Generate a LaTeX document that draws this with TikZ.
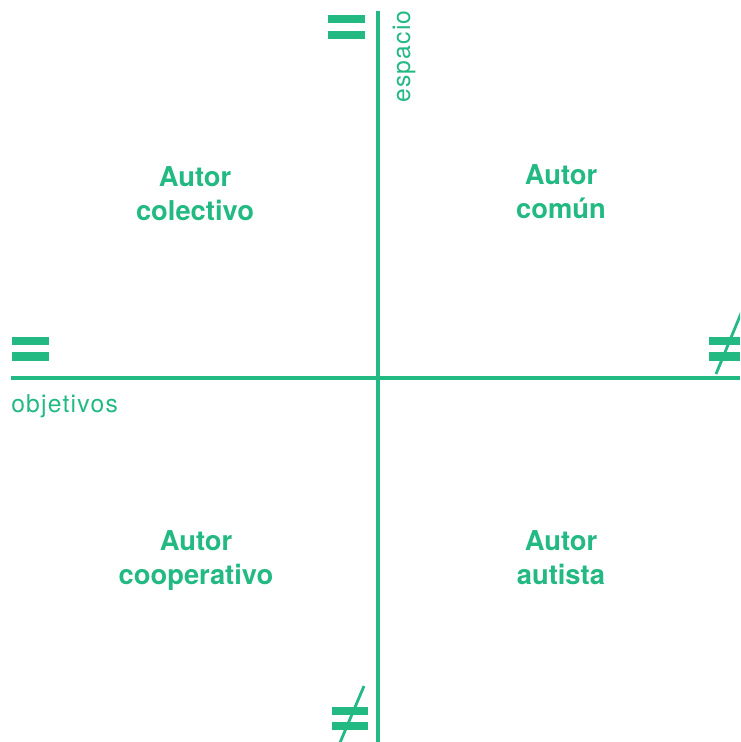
\documentclass[tikz,border=0pt]{standalone}
\usepackage{fontspec}
\setmainfont{TeX Gyre Heros}
\definecolor{mint}{RGB}{34,185,130}
\begin{document}
\begin{tikzpicture}[x=0.75pt,y=-0.75pt,
  axis/.style={draw=mint,line width=2.6pt},
  bar/.style={fill=mint,draw=none},
  slash/.style={draw=mint,line width=2.1pt},
  quadlabel/.style={text=mint,inner sep=0pt,align=center,anchor=base,
    font=\bfseries\fontsize{20.5}{25}\selectfont},
  axislabel/.style={text=mint,inner sep=0pt,
    font=\fontsize{18.5}{22}\selectfont\addfontfeatures{LetterSpace=5}}]
  \useasboundingbox (0,0) rectangle (740,742);
  \begin{scope}
  \clip (0,0) rectangle (740,742);
  % axes
  \coordinate (ytop) at (378,11);
  \coordinate (ybot) at (378,742);
  \coordinate (xleft) at (11,378);
  \coordinate (xright) at (740,378);
  \draw[axis] (ytop) -- (ybot);
  \draw[axis] (xleft) -- (xright);
  % equal sign at the top of the vertical axis
  \fill[bar] (328,15) rectangle (365,23);
  \fill[bar] (328,31) rectangle (365,39);
  % equal sign at the left end of the horizontal axis
  \fill[bar] (12,337) rectangle (49,345);
  \fill[bar] (12,352) rectangle (49,361);
  % not-equal sign at the right end
  \fill[bar] (709,337) rectangle (740,345);
  \fill[bar] (709,352) rectangle (740,361);
  \coordinate (rs1) at (742,311);
  \coordinate (rs2) at (716,374);
  \draw[slash] (rs1) -- (rs2);
  % not-equal sign at the bottom
  \fill[bar] (332,707) rectangle (368,715);
  \fill[bar] (332,722) rectangle (368,730);
  \coordinate (bs1) at (364,686);
  \coordinate (bs2) at (339,745);
  \draw[slash] (bs1) -- (bs2);
  \end{scope}
  % axis names
  \node[axislabel,rotate=90,anchor=base west] (espacio) at (410,103) {espacio};
  \node[axislabel,anchor=base west] (objetivos) at (11,412) {objetivos};
  % quadrants (anchored on the baseline of the second line)
  \node[quadlabel] (colectivo) at (195,220) {Autor\\colectivo};
  \node[quadlabel] (comun) at (561,218) {Autor\\común};
  \node[quadlabel] (cooperativo) at (196,584) {Autor\\cooperativo};
  \node[quadlabel] (autista) at (561,584) {Autor\\autista};
\end{tikzpicture}
\end{document}
